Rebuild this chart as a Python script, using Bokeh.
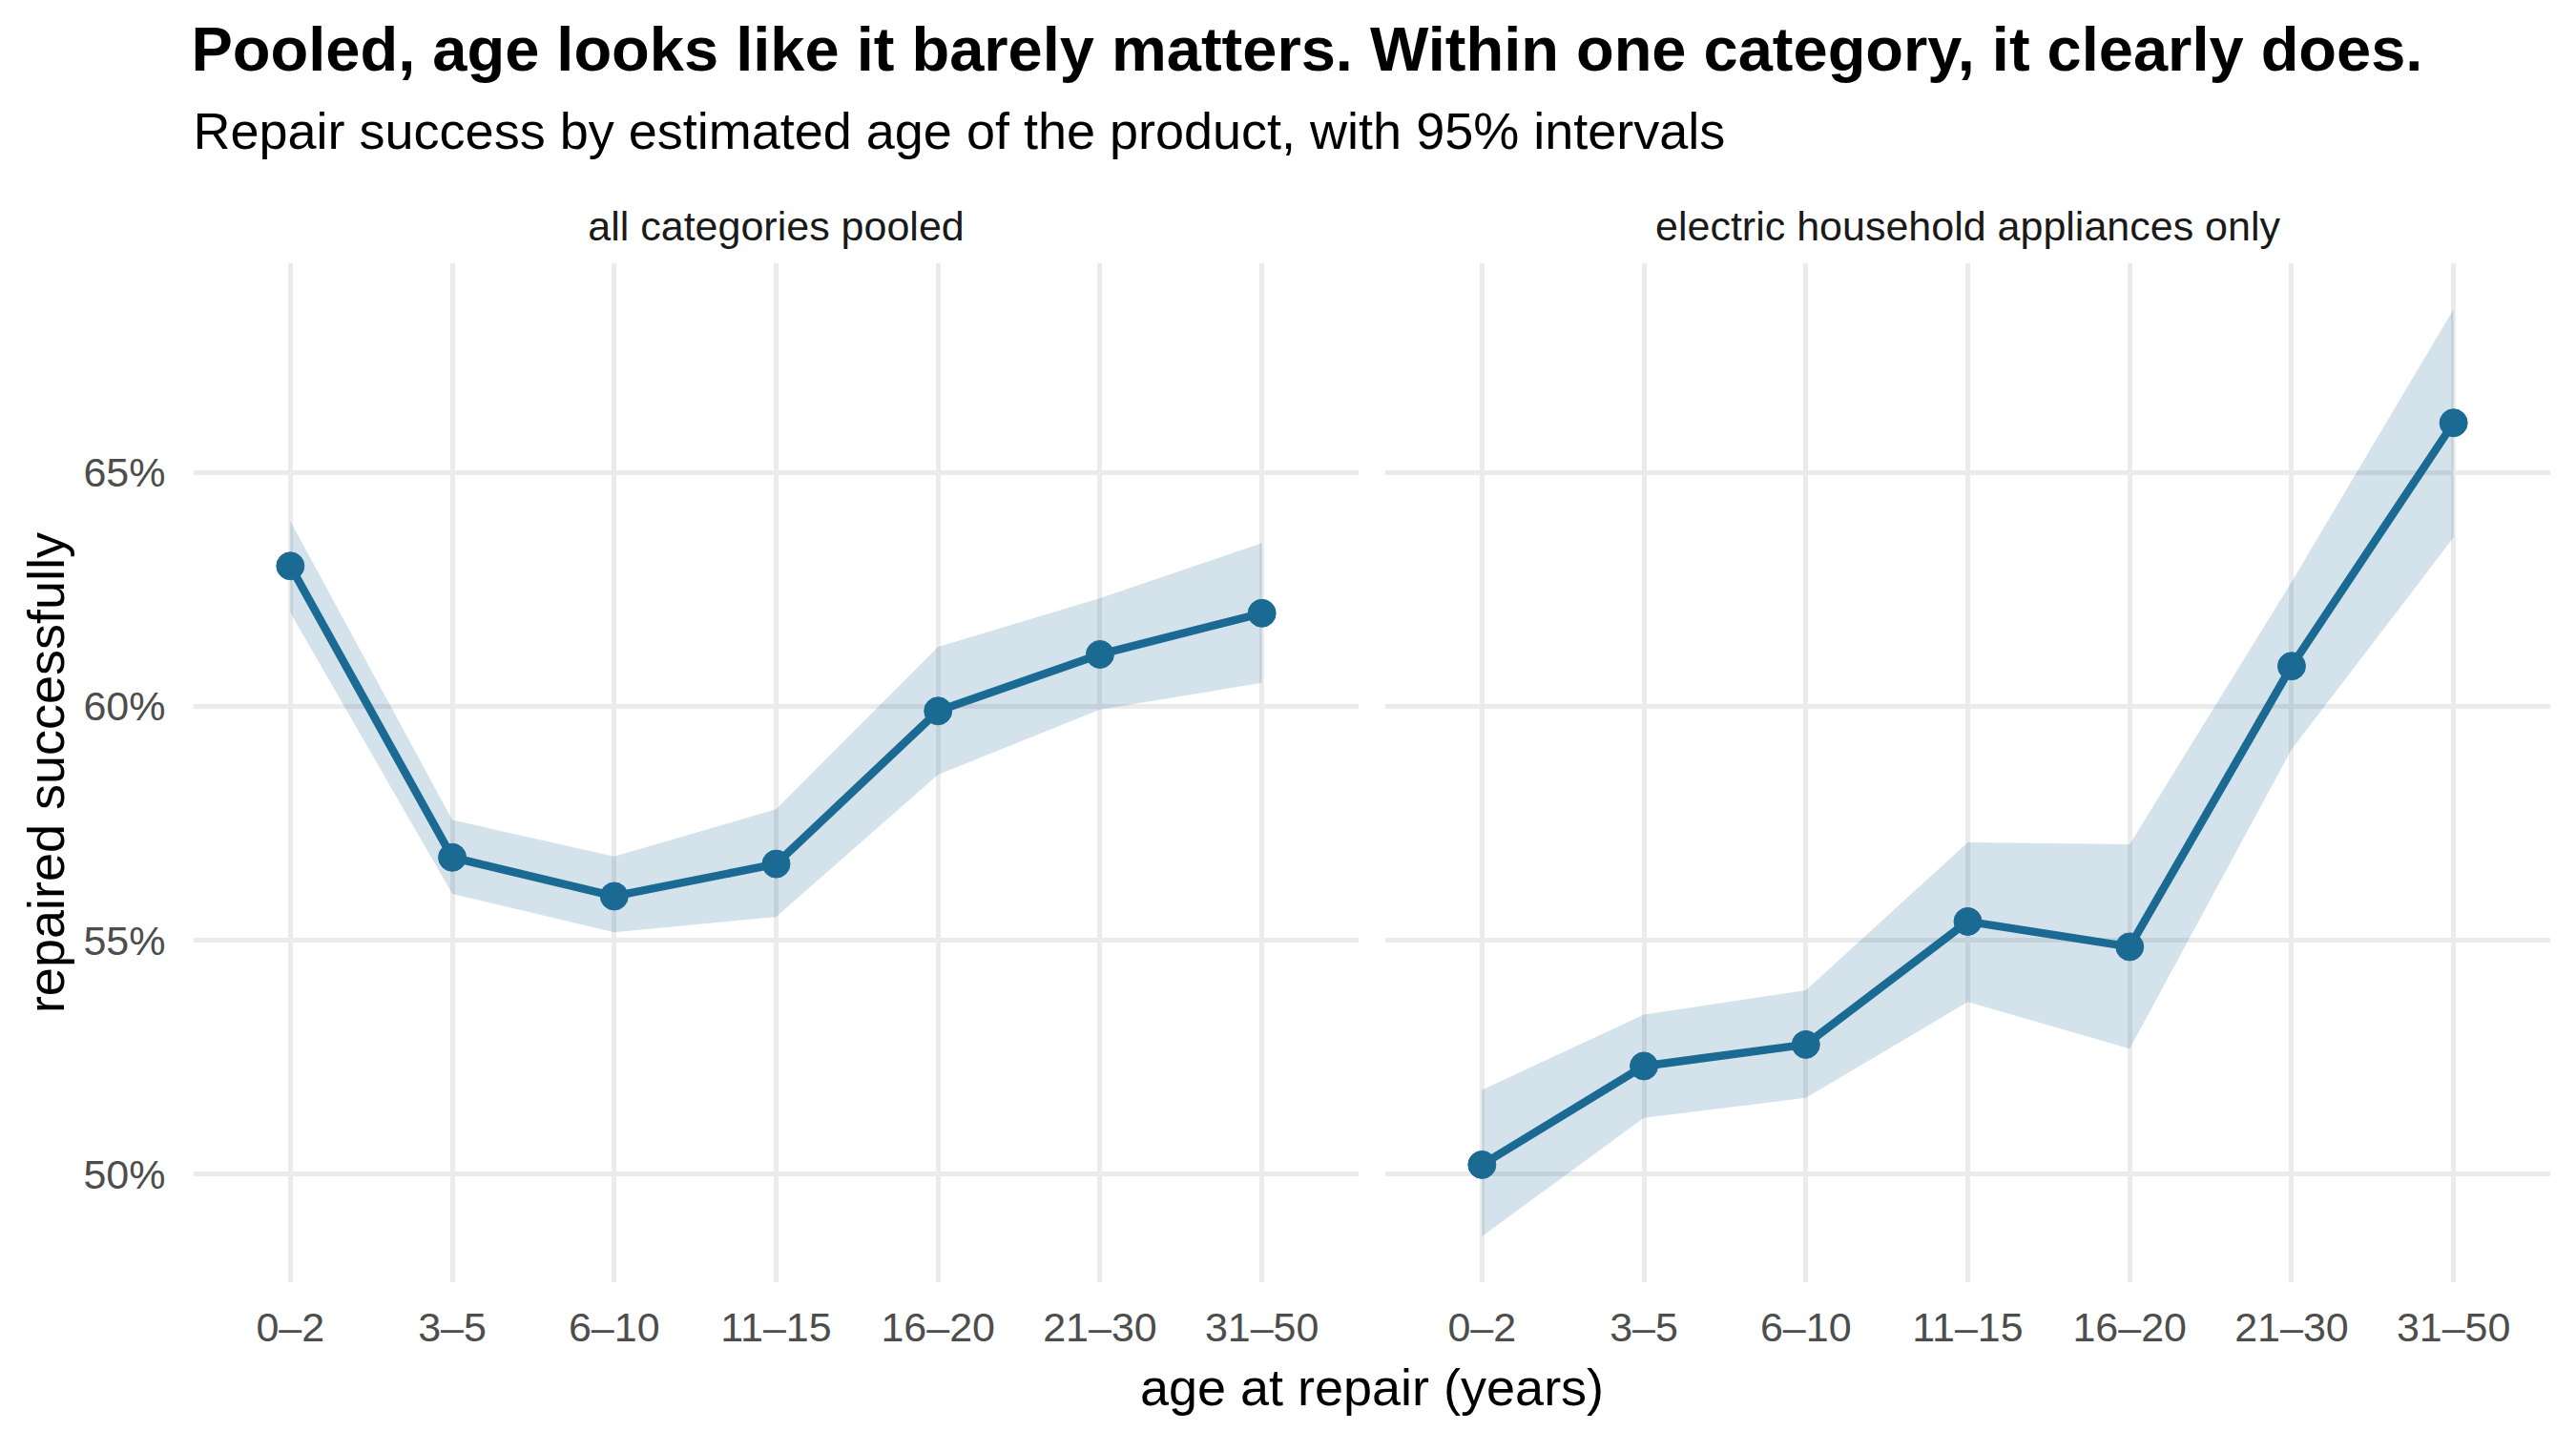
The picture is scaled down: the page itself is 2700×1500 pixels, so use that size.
from bokeh.plotting import figure
from bokeh.models import Range1d, FixedTicker, PrintfTickFormatter, Label
from bokeh.layouts import column, row
from bokeh.embed import file_html
from bokeh.resources import INLINE

# ---------------- data (percent) ----------------
categories = ["0–2", "3–5", "6–10", "11–15", "16–20", "21–30", "31–50"]

pooled_rate = [63.00, 56.77, 55.94, 56.63, 59.90, 61.11, 61.99]
pooled_lo   = [62.00, 55.99, 55.17, 55.50, 58.54, 59.93, 60.50]
pooled_hi   = [63.96, 57.57, 56.79, 57.80, 61.27, 62.31, 63.49]

appl_rate = [50.20, 52.31, 52.77, 55.40, 54.86, 60.86, 66.06]
appl_lo   = [48.67, 51.20, 51.63, 53.68, 52.68, 59.08, 63.61]
appl_hi   = [51.80, 53.41, 53.93, 57.09, 57.05, 62.66, 68.49]

y_ticks = [50, 55, 60, 65]

panel_titles = ["all categories pooled", "electric household appliances only"]
title = "Pooled, age looks like it barely matters. Within one category, it clearly does."
subtitle = "Repair success by estimated age of the product, with 95% intervals"
x_title = "age at repair (years)"
y_title = "repaired successfully"

# ---------------- style ----------------
FONT = "Liberation Sans"
LINE = "#1B6A93"
GRID = "#EBEBEB"

FRAME_W = 1222
FRAME_H = 1069
P1_LEFT, P1_RIGHT = 202, 13
P2_LEFT, P2_RIGHT = 14, 20
TOTAL_W = P1_LEFT + FRAME_W + P1_RIGHT + P2_LEFT + FRAME_W + P2_RIGHT
HEADER_H = 275
BOTTOM = 70
FOOTER_H = 84

x_idx = list(range(len(categories)))
all_lo = pooled_lo + appl_lo
all_hi = pooled_hi + appl_hi
pad = 0.05 * (max(all_hi) - min(all_lo))
y_range = Range1d(min(all_lo) - pad, max(all_hi) + pad)


def panel(rate, lo, hi, left, right, show_y):
    p = figure(title=None, frame_width=FRAME_W, frame_height=FRAME_H,
               x_range=Range1d(-0.6, len(categories) - 1 + 0.6),
               y_range=y_range,
               min_border_left=left, min_border_right=right,
               min_border_top=0, min_border_bottom=BOTTOM,
               toolbar_location=None, output_backend="svg")
    p.outline_line_color = None
    p.background_fill_color = "white"
    p.border_fill_color = "white"

    xt = FixedTicker(ticks=x_idx)
    yt = FixedTicker(ticks=y_ticks)
    p.xaxis.ticker = xt
    p.yaxis.ticker = yt
    p.xgrid.ticker = xt
    p.ygrid.ticker = yt
    p.xaxis.major_label_overrides = {i: c for i, c in enumerate(categories)}
    p.yaxis.formatter = PrintfTickFormatter(format="%d%%")

    for ax in p.axis:
        ax.axis_line_color = None
        ax.major_tick_line_color = None
        ax.minor_tick_line_color = None
        ax.major_tick_out = 0
        ax.major_tick_in = 0
        ax.minor_tick_out = 0
        ax.minor_tick_in = 0
        ax.major_label_text_font = FONT
        ax.major_label_text_font_size = "43px"
        ax.major_label_text_color = "#4D4D4D"
    p.xaxis.major_label_standoff = 22
    p.yaxis.major_label_standoff = 29

    if show_y:
        p.yaxis.axis_label = y_title
        p.yaxis.axis_label_text_font = FONT
        p.yaxis.axis_label_text_font_size = "54px"
        p.yaxis.axis_label_text_font_style = "normal"
        p.yaxis.axis_label_text_color = "black"
        p.yaxis.axis_label_standoff = 6
    else:
        p.yaxis.visible = False

    for g in (p.xgrid, p.ygrid):
        g.grid_line_color = GRID
        g.grid_line_width = 5

    p.varea(x=x_idx, y1=lo, y2=hi, fill_color=LINE, fill_alpha=0.19)
    p.line(x=x_idx, y=rate, line_color=LINE, line_width=8.5)
    p.scatter(x=x_idx, y=rate, size=29, fill_color=LINE, line_color=LINE)
    return p


p1 = panel(pooled_rate, pooled_lo, pooled_hi, P1_LEFT, P1_RIGHT, True)
p2 = panel(appl_rate, appl_lo, appl_hi, P2_LEFT, P2_RIGHT, False)

# panel geometry in layout pixels
p1_center = P1_LEFT + FRAME_W / 2
p2_left = P1_LEFT + FRAME_W + P1_RIGHT + P2_LEFT
p2_center = p2_left + FRAME_W / 2
panels_center = (P1_LEFT + p2_left + FRAME_W) / 2


def canvas(h):
    c = figure(title=None, frame_width=TOTAL_W, frame_height=h,
               x_range=Range1d(0, TOTAL_W), y_range=Range1d(h, 0),
               min_border=0, toolbar_location=None, output_backend="svg")
    c.axis.visible = False
    c.grid.visible = False
    c.outline_line_color = None
    c.background_fill_color = "white"
    c.border_fill_color = "white"
    return c


header = canvas(HEADER_H)
header.add_layout(Label(x=P1_LEFT - 2, y=51, text=title, text_font=FONT,
                        text_font_size="65px", text_font_style="bold",
                        text_color="black", text_align="left",
                        text_baseline="alphabetic"))
header.add_layout(Label(x=P1_LEFT, y=136, text=subtitle, text_font=FONT,
                        text_font_size="54px", text_color="black",
                        text_align="left", text_baseline="alphabetic"))
for cx, t in zip([p1_center, p2_center], panel_titles):
    header.add_layout(Label(x=cx, y=236, text=t, text_font=FONT,
                            text_font_size="43px", text_color="#1A1A1A",
                            text_align="center", text_baseline="alphabetic"))

footer = canvas(FOOTER_H)
footer.add_layout(Label(x=panels_center, y=36, text=x_title, text_font=FONT,
                        text_font_size="54px", text_color="black",
                        text_align="center", text_baseline="alphabetic"))

layout = column(header, row(p1, p2), footer)

open("out.html", "w").write(file_html(layout, INLINE))
